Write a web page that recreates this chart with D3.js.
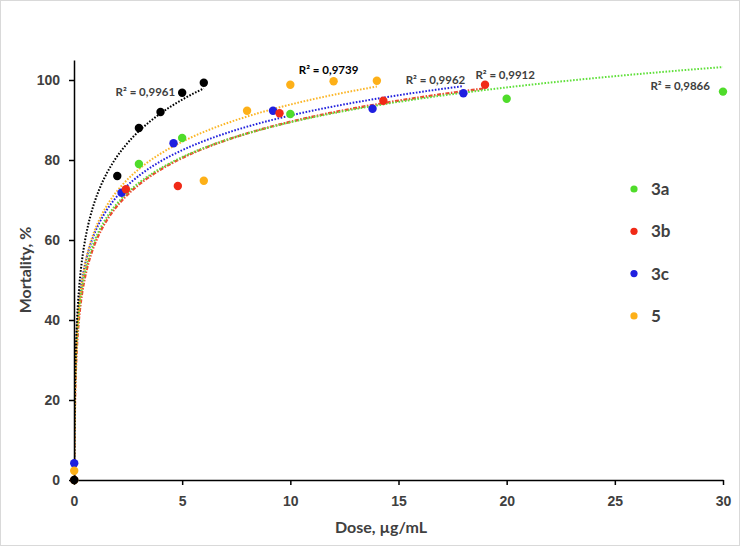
<!DOCTYPE html>
<html>
<head>
<meta charset="utf-8">
<script src="https://cdn.jsdelivr.net/npm/d3@7"></script>
<style>
  body { margin: 0; background: #fff; }
  .tick text { font-family: 'Liberation Sans', Arial, sans-serif; font-weight: bold; font-size: 14px; fill: #404040; }
  .axis path, .axis line { stroke: #000; stroke-width: 1.5; }
  .title { font-family: Lato, 'Open Sans', sans-serif; font-weight: bold; font-size: 16px; fill: #404040; }
  .r2 { font-family: Lato, 'Open Sans', sans-serif; font-weight: bold; font-size: 11.5px; }
  .legend text { font-family: Lato, 'Open Sans', sans-serif; font-weight: bold; font-size: 17px; fill: #404040; }
</style>
</head>
<body>
<svg id="chart"></svg>
<script>
// data (control dose plotted at ~0)
var dose_ref = [0.01, 2, 3, 4, 5, 6];
var mort_ref = [0, 76, 88, 92, 96.8, 99.3];

var dose_3a = [0.01, 3, 5, 10, 20, 30];
var mort_3a = [0, 79, 85.5, 91.5, 95.3, 97.1];

var dose_3b = [0.01, 2.4, 4.8, 9.5, 14.3, 19];
var mort_3b = [0, 72.7, 73.5, 91.7, 94.8, 98.8];

var dose_3c = [0.01, 2.2, 4.6, 9.2, 13.8, 18];
var mort_3c = [4.2, 71.8, 84.2, 92.3, 92.8, 96.7];

var dose_5 = [0.01, 6, 8, 10, 12, 14];
var mort_5 = [2.3, 74.8, 92.3, 98.8, 99.7, 99.8];

var legend_names = ['3a', '3b', '3c', '5'];
var r2_texts = ['R² = 0,9961', 'R² = 0,9739', 'R² = 0,9962', 'R² = 0,9912', 'R² = 0,9866'];

var x_ticks = [0, 5, 10, 15, 20, 25, 30];
var y_ticks = [0, 20, 40, 60, 80, 100];

var W = 740, H = 546;
var svg = d3.select('#chart').attr('width', W).attr('height', H);

svg.append('rect')
	.attr('x', 0.5).attr('y', 0.5)
	.attr('width', W - 1).attr('height', H - 1)
	.attr('fill', '#fff').attr('stroke', '#d9d9d9');

var x = d3.scaleLinear().domain([0, 30]).range([74, 723]);
var y = d3.scaleLinear().domain([0, 105]).range([480, 60]);

svg.append('defs').append('clipPath').attr('id', 'plot')
	.append('rect').attr('x', 74).attr('y', 0).attr('width', 670).attr('height', 480);

// series: colours and trendline styles
var series = [
	{name: '3a', xs: dose_3a, ys: mort_3a, color: '#4fdc2a', line: '#5fe03a', dash: '1.6,1.6', lw: 2},
	{name: '3c', xs: dose_3c, ys: mort_3c, color: '#1f1fe0', line: '#2020dd', dash: '1.6,1.6', lw: 2},
	{name: '3b', xs: dose_3b, ys: mort_3b, color: '#f02a17', line: '#ec4a30', dash: '4,1.5,1.5,1.5', lw: 2.4},
	{name: '5', xs: dose_5, ys: mort_5, color: '#fdb018', line: '#fbb628', dash: '1.6,1.6', lw: 2},
	{name: 'ref', xs: dose_ref, ys: mort_ref, color: '#000', line: '#000', dash: '1.6,1.6', lw: 2}
];

// logarithmic trendline y = a*ln(x) + b, least squares like Excel
function log_fit(xs, ys) {
	var lx = xs.map(Math.log);
	var mx = d3.mean(lx), my = d3.mean(ys);
	var sxy = d3.sum(lx, function(v, i) { return (v - mx) * (ys[i] - my); });
	var sxx = d3.sum(lx, function(v) { return (v - mx) * (v - mx); });
	var a = sxy / sxx;
	return {a: a, b: my - a * mx};
}

var line = d3.line()
	.x(function(d) { return x(d[0]); })
	.y(function(d) { return y(d[1]); });

var order_lines = ['3c', '3b', '3a', '5', 'ref'];
order_lines.forEach(function(n) {
	var s = series.find(function(d) { return d.name == n; });
	var f = log_fit(s.xs, s.ys);
	var x0 = d3.min(s.xs), x1 = d3.max(s.xs);
	var pts = d3.range(0, 301).map(function(i) {
		var t = Math.exp(Math.log(x0) + (Math.log(x1) - Math.log(x0)) * i / 300);
		return [t, f.a * Math.log(t) + f.b];
	});
	svg.append('path')
		.datum(pts)
		.attr('d', line)
		.attr('clip-path', 'url(#plot)')
		.attr('fill', 'none')
		.attr('stroke', s.line)
		.attr('stroke-width', s.lw)
		.attr('stroke-dasharray', s.dash);
});

// axes
svg.append('g').attr('class', 'axis')
	.attr('transform', 'translate(74,0)')
	.call(d3.axisLeft(y).tickValues(y_ticks).tickSize(5).tickPadding(9).tickSizeOuter(0));

svg.append('g').attr('class', 'axis')
	.attr('transform', 'translate(0,480)')
	.call(d3.axisBottom(x).tickValues(x_ticks).tickSize(5).tickPadding(11).tickSizeOuter(0));

// points
series.forEach(function(s) {
	svg.selectAll(null)
		.data(s.xs.map(function(v, i) { return [v, s.ys[i]]; }))
		.enter().append('circle')
		.attr('cx', function(d) { return x(d[0]); })
		.attr('cy', function(d) { return y(d[1]); })
		.attr('r', 4.2)
		.attr('fill', s.color);
});

// R² labels, anchored in data units
var r2_pos = [[3.3, 97], [11.77, 102.5], [16.71, 100], [19.93, 101.25], [28.02, 98.5]];
var r2_col = ['#404040', '#000', '#404040', '#404040', '#404040'];
r2_texts.forEach(function(t, i) {
	svg.append('text')
		.attr('class', 'r2')
		.attr('x', x(r2_pos[i][0]))
		.attr('y', y(r2_pos[i][1]))
		.attr('dy', '0.35em')
		.attr('text-anchor', 'middle')
		.attr('fill', r2_col[i])
		.text(t);
});

// legend
var leg_col = ['#4fdc2a', '#f02a17', '#1f1fe0', '#fdb018'];
var leg = svg.append('g').attr('class', 'legend');
legend_names.forEach(function(n, i) {
	var g = leg.append('g').attr('transform', 'translate(634,' + (189 + i * 42.3) + ')');
	g.append('circle').attr('r', 3.6).attr('fill', leg_col[i]);
	g.append('text').attr('x', 17).attr('dy', '0.36em').text(n);
});

// axis titles
svg.append('text').attr('class', 'title')
	.attr('x', 381).attr('y', 527).attr('dy', '0.35em')
	.attr('text-anchor', 'middle')
	.text('Dose, µg/mL');

svg.append('text').attr('class', 'title')
	.attr('transform', 'translate(25,270) rotate(-90)')
	.attr('dy', '0.35em')
	.attr('text-anchor', 'middle')
	.text('Mortality, %');
</script>
</body>
</html>
